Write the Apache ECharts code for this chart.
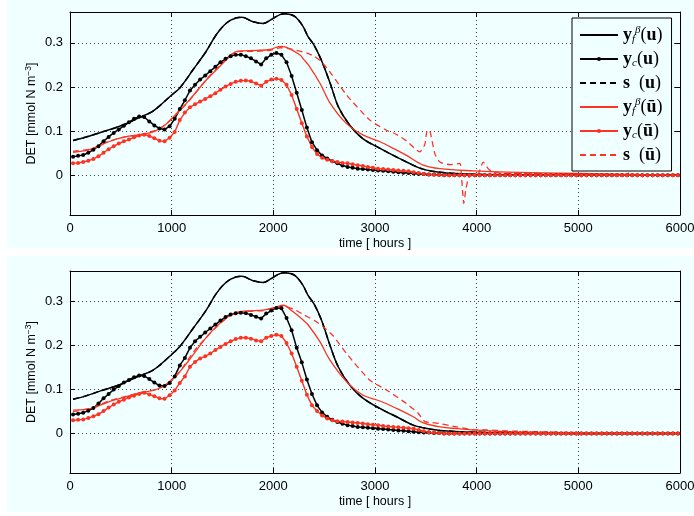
<!DOCTYPE html>
<html><head><meta charset="utf-8">
<script src="https://cdn.jsdelivr.net/npm/echarts@6/dist/echarts.min.js"></script>
<style>html,body{margin:0;padding:0;background:#fff}#c{width:694px;height:516px}</style>
</head><body><div id="c"></div>
<script>
// ---- sampling grid for the marker series (50 h step) ----
const T = []; for (let t = 30; t <= 5980; t += 50) T.push(t);

const X_TICKS = [0, 1000, 2000, 3000, 4000, 5000, 6000];
const Y_TICKS = [0, 0.1, 0.2, 0.3];
const NAMES = ['yfU', 'ycU', 'sU', 'yfUb', 'ycUb', 'sUb'];

// ---------------- TOP PANEL ----------------
const topYfU_t = [30,150,300,475,600,705,800,870,1000,1080,1210,1340,1440,1540,1640,1690,1800,1900,1980,2065,2115,2210,2290,2340,2400,2470,2560,2640,2750,2880,3050,3180,3320,3470,3640,3800,4000,4500,5000,6000];
const topYfU_v = [0.079,0.086,0.097,0.110,0.122,0.133,0.143,0.155,0.182,0.198,0.239,0.281,0.319,0.345,0.357,0.358,0.348,0.344,0.353,0.364,0.366,0.360,0.338,0.315,0.295,0.262,0.208,0.155,0.114,0.083,0.061,0.045,0.029,0.014,0.007,0.004,0.002,0.001,0,0];

const topYcU = [
0.042,0.044,0.046,0.051,0.058,0.066,0.077,0.087,0.096,0.104,
0.112,0.120,0.128,0.133,0.132,0.122,0.113,0.106,0.104,0.111,
0.128,0.150,0.170,0.192,0.205,0.217,0.226,0.236,0.246,0.256,
0.264,0.270,0.273,0.273,0.270,0.265,0.258,0.251,0.265,0.273,
0.277,0.273,0.256,0.225,0.187,0.148,0.108,0.075,0.057,0.045,
0.038,0.032,0.027,0.022,0.019,0.017,0.015,0.014,0.013,0.012,
0.011,0.010,0.009,0.008,0.007,0.006,0.005,0.004,0.003,0.003,
0.002,0.002,0.001,
0,0,0,0,0,0,0,0,0,0, 0,0,0,0,0,0,0,0,0,0, 0,0,0,0,0,0,0,0,0,0, 0,0,0,0,0,0,0,0,0,0, 0,0,0,0,0,0,0];

const topYfUb_t = [30,210,380,540,705,835,935,1065,1165,1345,1475,1575,1640,1835,1965,2065,2130,2260,2300,2345,2460,2560,2720,2885,3050,3180,3310,3475,3640,3970,4300,5000,5500,6000];
const topYfUb_v = [0.052,0.059,0.076,0.087,0.092,0.100,0.114,0.144,0.168,0.217,0.247,0.270,0.281,0.283,0.285,0.292,0.290,0.273,0.262,0.250,0.208,0.163,0.117,0.091,0.076,0.061,0.045,0.023,0.015,0.010,0.007,0.004,0.002,0];

const topYcUb = [
0.027,0.028,0.030,0.033,0.037,0.043,0.051,0.059,0.066,0.072,
0.077,0.081,0.086,0.090,0.092,0.089,0.084,0.078,0.077,0.085,
0.098,0.125,0.142,0.154,0.161,0.167,0.173,0.179,0.186,0.194,
0.201,0.207,0.212,0.214,0.215,0.213,0.208,0.203,0.212,0.217,
0.219,0.216,0.205,0.182,0.150,0.118,0.088,0.064,0.048,0.040,
0.035,0.032,0.030,0.028,0.027,0.025,0.023,0.021,0.019,0.017,
0.015,0.014,0.013,0.012,0.011,0.010,0.009,0.007,0.005,0.003,
0.002,0.001,0.001,
0,0,0,0,0,0,0,0,0,0, 0,0,0,0,0,0,0,0,0,0, 0,0,0,0,0,0,0,0,0,0, 0,0,0,0,0,0,0,0,0,0, 0,0,0,0,0,0,0];

const topSUb_t = [30,210,380,540,705,835,935,1065,1165,1345,1475,1575,1640,1835,1965,2065,2130,2230,2330,2400,2470,2570,2720,2950,3114,3200,3310,3441,3490,3514,3540,3589,3638,3740,3835,3851,3874,3895,3933,4015,4064,4113,4160,4300,4500,4700,5000,5300,5480,5510,5530,5800,6000];
const topSUb_v = [0.054,0.060,0.077,0.087,0.093,0.101,0.114,0.143,0.167,0.218,0.249,0.272,0.280,0.281,0.283,0.289,0.288,0.283,0.277,0.270,0.258,0.230,0.182,0.125,0.102,0.094,0.078,0.053,0.070,0.102,0.100,0.049,0.030,0.024,0.027,-0.004,-0.064,-0.030,0,0.003,0.030,0.015,0.007,0.004,0.005,0.002,0.003,0.001,0,0.019,0.002,0.001,0];

// ---------------- BOTTOM PANEL ----------------
const botYfU_t = [30,150,300,475,600,705,800,870,1000,1080,1210,1340,1440,1540,1640,1690,1800,1900,1980,2065,2115,2210,2290,2340,2400,2474,2557,2638,2753,2884,3048,3212,3376,3475,3640,3970,4500,5000,6000];
const botYfU_v = [0.078,0.085,0.097,0.110,0.123,0.133,0.142,0.153,0.180,0.198,0.239,0.281,0.319,0.345,0.357,0.358,0.348,0.344,0.353,0.364,0.366,0.360,0.338,0.315,0.295,0.258,0.201,0.152,0.110,0.080,0.057,0.038,0.019,0.013,0.007,0.003,0.001,0,0];

const botYcU = [
0.043,0.045,0.047,0.052,0.058,0.068,0.080,0.090,0.100,0.108,
0.116,0.122,0.128,0.132,0.131,0.124,0.116,0.109,0.108,0.115,
0.130,0.155,0.172,0.195,0.210,0.220,0.230,0.239,0.248,0.257,
0.265,0.271,0.274,0.275,0.274,0.270,0.266,0.262,0.273,0.280,
0.286,0.285,0.263,0.235,0.195,0.162,0.123,0.090,0.064,0.048,
0.038,0.031,0.026,0.022,0.019,0.017,0.015,0.014,0.013,0.012,
0.011,0.010,0.009,0.008,0.007,0.006,0.005,0.004,0.003,0.002,
0.002,0.001,0.001,
0,0,0,0,0,0,0,0,0,0, 0,0,0,0,0,0,0,0,0,0, 0,0,0,0,0,0,0,0,0,0, 0,0,0,0,0,0,0,0,0,0, 0,0,0,0,0,0,0];

const botYfUb_t = [30,210,380,540,705,835,935,1065,1165,1345,1475,1605,1735,1900,2030,2095,2195,2294,2343,2458,2557,2720,2884,3048,3212,3376,3475,3640,3970,4290,5000,6000];
const botYfUb_v = [0.053,0.057,0.072,0.083,0.093,0.099,0.110,0.137,0.165,0.220,0.251,0.273,0.279,0.281,0.288,0.292,0.277,0.258,0.247,0.209,0.167,0.118,0.087,0.074,0.057,0.038,0.024,0.015,0.008,0.004,0.001,0];

const botYcUb = [
0.030,0.031,0.032,0.035,0.039,0.044,0.051,0.059,0.066,0.072,
0.077,0.082,0.086,0.090,0.093,0.089,0.085,0.080,0.079,0.087,
0.098,0.115,0.130,0.152,0.163,0.171,0.176,0.182,0.190,0.197,
0.204,0.210,0.215,0.218,0.218,0.216,0.212,0.210,0.218,0.222,
0.225,0.222,0.206,0.182,0.152,0.120,0.088,0.064,0.051,0.041,
0.034,0.030,0.028,0.027,0.026,0.025,0.024,0.023,0.021,0.020,
0.019,0.017,0.016,0.015,0.014,0.013,0.012,0.011,0.008,0.005,
0.003,0.002,0.001,
0,0,0,0,0,0,0,0,0,0, 0,0,0,0,0,0,0,0,0,0, 0,0,0,0,0,0,0,0,0,0, 0,0,0,0,0,0,0,0,0,0, 0,0,0,0,0,0,0];

const botSUb_t = [30,210,380,540,705,835,935,1065,1215,1345,1475,1605,1735,1900,2030,2095,2200,2300,2400,2491,2590,2720,2950,3114,3310,3425,3490,3560,3650,3760,3950,4100,4290,4600,5000,5500,6000];
const botSUb_v = [0.050,0.058,0.074,0.084,0.094,0.100,0.110,0.136,0.186,0.220,0.250,0.272,0.278,0.280,0.287,0.290,0.283,0.270,0.258,0.243,0.222,0.182,0.121,0.099,0.068,0.046,0.027,0.025,0.022,0.017,0.009,0.008,0.006,0.004,0.002,0.001,0];

// ------------------------------------------------
const BLACK = '#000000', RED = '#ff3322', BG = '#f0ffff';
const SANS = 'Liberation Sans, Helvetica, Arial, sans-serif';
const SERIF = 'Liberation Serif, DejaVu Serif, serif';
const pairs = (xs, ys) => xs.map((x, i) => [x, ys[i]]);

function panelSeries(g, d) {
  const xi = g * 2, yi = g * 2;
  const base = { type: 'line', xAxisIndex: xi, yAxisIndex: yi, animation: false, clip: true };
  return [
    Object.assign({}, base, { name: 'sU', data: pairs(d.yfU_t, d.yfU_v), symbol: 'none', smooth: 0.35,
      lineStyle: { color: BLACK, width: 1.5, type: [6, 4] }, itemStyle: { color: BLACK } }),
    Object.assign({}, base, { name: 'yfU', data: pairs(d.yfU_t, d.yfU_v), symbol: 'none', smooth: 0.35,
      lineStyle: { color: BLACK, width: 1.5 }, itemStyle: { color: BLACK } }),
    Object.assign({}, base, { name: 'ycU', data: pairs(T, d.ycU), symbol: 'circle', symbolSize: 4, showAllSymbol: true,
      lineStyle: { color: BLACK, width: 1.5 }, itemStyle: { color: BLACK } }),
    Object.assign({}, base, { name: 'yfUb', data: pairs(d.yfUb_t, d.yfUb_v), symbol: 'none', smooth: 0.35,
      lineStyle: { color: RED, width: 1.3 }, itemStyle: { color: RED } }),
    Object.assign({}, base, { name: 'ycUb', data: pairs(T, d.ycUb), symbol: 'circle', symbolSize: 4, showAllSymbol: true,
      lineStyle: { color: RED, width: 1.4 }, itemStyle: { color: RED } }),
    Object.assign({}, base, { name: 'sUb', data: pairs(d.sUb_t, d.sUb_v), symbol: 'none', smooth: 0.2,
      lineStyle: { color: RED, width: 1.3, type: [6, 4] }, itemStyle: { color: RED } })
  ];
}

const grids = [
  { left: 70, right: 14, top: 12, height: 203, outerBoundsMode: 'none', containLabel: false },
  { left: 70, right: 14, top: 271, height: 202, outerBoundsMode: 'none', containLabel: false }
];

function xAx(g, pos) {
  const bottom = pos === 'bottom';
  return {
    type: 'value', gridIndex: g, position: pos, min: 0, max: 6000, interval: 1000,
    name: bottom ? 'time [ hours ]' : '', nameLocation: 'middle', nameGap: 22, nameMoveOverlap: false,
    nameTextStyle: { color: '#000', fontSize: 12.5, fontFamily: SANS },
    axisLine: { show: true, onZero: false, lineStyle: { color: '#000', width: 1 } },
    axisTick: { show: true, inside: true, length: 5, lineStyle: { color: '#000' } },
    axisLabel: { show: bottom, color: '#000', fontSize: 13, fontFamily: SANS, margin: 7,
      formatter: v => String(Math.round(v)) },
    splitLine: { show: bottom, lineStyle: { color: '#444', width: 1, type: [1, 3] } }
  };
}
function yAx(g, pos) {
  const left = pos === 'left';
  return {
    type: 'value', gridIndex: g, position: pos, min: -0.09, max: 0.37,
    name: left ? 'DET [mmol N m{sup|−3}]' : '', nameLocation: 'middle', nameGap: 30, nameMoveOverlap: false,
    nameTextStyle: { color: '#000', fontSize: 12.5, fontFamily: SANS, lineHeight: 16,
      rich: { sup: { fontSize: 8.5, fontFamily: SANS, color: '#000', verticalAlign: 'top', lineHeight: 9 } } },
    axisLine: { show: true, onZero: false, lineStyle: { color: '#000', width: 1 } },
    axisTick: { show: true, inside: true, length: 5, customValues: Y_TICKS, lineStyle: { color: '#000' } },
    axisLabel: { show: left, customValues: Y_TICKS, color: '#000', fontSize: 13, fontFamily: SANS, margin: 7,
      formatter: v => (Math.abs(v) < 1e-9 ? '0' : (+v).toFixed(1)) },
    splitLine: { show: left, lineStyle: { color: '#444', width: 1, type: [1, 3] } }
  };
}

const LEG_TXT = {
  yfU:  '{b|y}{sub|f}{sup|β}{p|(}{b|u}{p|)}',
  ycU:  '{b|y}{sub|c}{p|(}{b|u}{p|)}',
  sU:   '{b|s}{p|  (}{b|u}{p|)}',
  yfUb: '{b|y}{sub|f}{sup|β}{p|(}{b|ū}{p|)}',
  ycUb: '{b|y}{sub|c}{p|(}{b|ū}{p|)}',
  sUb:  '{b|s}{p|  (}{b|ū}{p|)}'
};
const HIDE_SYM = { opacity: 0 };

const option = {
  backgroundColor: BG,
  animation: false,
  graphic: [
    { type: 'rect', shape: { x: 0, y: 0, width: 7, height: 516 }, style: { fill: '#ffffff' }, z: -100 },
    { type: 'rect', shape: { x: 0, y: 248, width: 694, height: 8 }, style: { fill: '#ffffff' }, z: -100 },
    { type: 'rect', shape: { x: 0, y: 512, width: 694, height: 4 }, style: { fill: '#ffffff' }, z: -100 }
  ],
  grid: grids,
  xAxis: [xAx(0, 'bottom'), xAx(0, 'top'), xAx(1, 'bottom'), xAx(1, 'top')],
  yAxis: [yAx(0, 'left'), yAx(0, 'right'), yAx(1, 'left'), yAx(1, 'right')],
  legend: {
    data: [
      { name: 'yfU', itemStyle: HIDE_SYM },
      { name: 'ycU' },
      { name: 'sU', itemStyle: HIDE_SYM },
      { name: 'yfUb', itemStyle: HIDE_SYM },
      { name: 'ycUb' },
      { name: 'sUb', itemStyle: HIDE_SYM }
    ],
    orient: 'vertical', left: 572, top: 18,
    padding: [7, 9, 7, 7], itemGap: 5, itemWidth: 38, itemHeight: 5,
    backgroundColor: BG, borderColor: '#000', borderWidth: 1, selectedMode: false,
    formatter: n => LEG_TXT[n],
    textStyle: {
      color: '#000',
      rich: {
        b: { fontFamily: SERIF, fontWeight: 'bold', fontSize: 18, lineHeight: 20, color: '#000' },
        p: { fontFamily: SERIF, fontSize: 18, lineHeight: 20, color: '#000' },
        sub: { fontFamily: SERIF, fontStyle: 'italic', fontSize: 11, lineHeight: 11, verticalAlign: 'bottom', color: '#000' },
        sup: { fontFamily: SERIF, fontStyle: 'italic', fontSize: 11, lineHeight: 11, verticalAlign: 'top', color: '#000' }
      }
    }
  },
  series: [].concat(
    panelSeries(0, { yfU_t: topYfU_t, yfU_v: topYfU_v, ycU: topYcU, yfUb_t: topYfUb_t, yfUb_v: topYfUb_v, ycUb: topYcUb, sUb_t: topSUb_t, sUb_v: topSUb_v }),
    panelSeries(1, { yfU_t: botYfU_t, yfU_v: botYfU_v, ycU: botYcU, yfUb_t: botYfUb_t, yfUb_v: botYfUb_v, ycUb: botYcUb, sUb_t: botSUb_t, sUb_v: botSUb_v })
  )
};

const chart = echarts.init(document.getElementById('c'), null, { renderer: 'canvas' });
chart.setOption(option);
</script>
</body></html>
